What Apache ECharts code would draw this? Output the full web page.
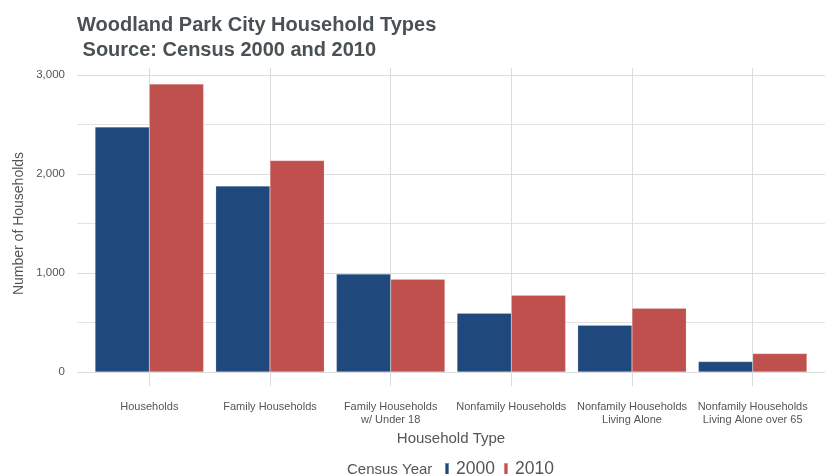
<!DOCTYPE html>
<html>
<head>
<meta charset="utf-8">
<script src="https://cdn.jsdelivr.net/npm/echarts@6/dist/echarts.min.js"></script>
<style>
  html, body { margin: 0; padding: 0; background: #fff; }
  #chart { width: 828px; height: 474px; }
</style>
</head>
<body>
<div id="chart"></div>
<script>
// values
const categories = [
  'Households',
  'Family Households',
  'Family Households\nw/ Under 18',
  'Nonfamily Households',
  'Nonfamily Households\nLiving Alone',
  'Nonfamily Households\nLiving Alone over 65'
]
const households2000 = [2475, 1878, 990, 593, 472, 105]
const households2010 = [2910, 2136, 937, 776, 644, 186]
const yTicks = [0, 1000, 2000, 3000]

const textGrey = '#555555'
const gridGrey = '#dcdcdc'

const chart = echarts.init(document.getElementById('chart'))

chart.setOption({
  animation: false,
  textStyle: { fontFamily: 'Liberation Sans, Arial, sans-serif' },
  title: [{
    text: 'Woodland Park City Household Types\n Source: Census 2000 and 2010',
    left: 72,
    top: 8,
    textStyle: {
      fontSize: 20,
      fontWeight: 'bold',
      color: '#4a5155',
      lineHeight: 25
    }
  }, {
    text: 'Census Year',
    left: 342,
    top: 457,
    textStyle: { fontSize: 15, fontWeight: 'normal', color: textGrey }
  }],
  legend: {
    left: 439,
    top: 455,
    icon: 'rect',
    itemWidth: 4,
    itemHeight: 12,
    itemGap: 8,
    textStyle: { fontSize: 17.5, color: textGrey, padding: [0, 0, 0, 2] },
    data: ['2000', '2010']
  },
  grid: [
    // bars
    { left: 89, right: 15, top: 75, bottom: 102 },
    // vertical grid lines (full panel height)
    { left: 89, right: 15, top: 68, bottom: 88 },
    // horizontal grid lines (full panel width) + y labels
    { left: 77, right: 3, top: 75, bottom: 102 }
  ],
  xAxis: [{
    gridIndex: 0,
    type: 'category',
    data: categories,
    axisLine: { show: false },
    axisTick: { show: false },
    axisLabel: {
      interval: 0,
      margin: 28,
      fontSize: 11,
      lineHeight: 13,
      color: textGrey
    },
    name: 'Household Type',
    nameLocation: 'middle',
    nameGap: 59,
    nameTextStyle: { fontSize: 15, color: textGrey }
  }, {
    gridIndex: 1,
    type: 'category',
    data: categories,
    axisLine: { show: false },
    axisLabel: { show: false },
    axisTick: {
      show: true,
      inside: true,
      interval: 0,
      alignWithLabel: true,
      length: 318,
      lineStyle: { color: gridGrey, width: 1 }
    }
  }, {
    gridIndex: 2,
    type: 'value',
    show: false
  }],
  yAxis: [{
    gridIndex: 0,
    type: 'value',
    min: 0,
    max: 3000,
    interval: 1000,
    axisLine: { show: false },
    axisTick: { show: false },
    axisLabel: { show: false },
    splitLine: { show: false }
  }, {
    gridIndex: 1,
    type: 'value',
    show: false
  }, {
    gridIndex: 2,
    type: 'value',
    min: yTicks[0],
    max: yTicks[yTicks.length - 1],
    interval: 1000,
    axisLine: { show: false },
    axisTick: { show: false },
    axisLabel: {
      margin: 12,
      fontSize: 11.5,
      color: textGrey,
      formatter: v => v.toLocaleString('en-US')
    },
    splitLine: { lineStyle: { color: gridGrey, width: 1.2 } },
    minorTick: { show: false, splitNumber: 2 },
    minorSplitLine: { show: true, lineStyle: { color: '#e3e3e3', width: 1 } },
    name: 'Number of Households',
    nameLocation: 'middle',
    nameGap: 51,
    nameMoveOverlap: false,
    nameTextStyle: { fontSize: 14, color: textGrey }
  }],
  series: [{
    name: '2000',
    type: 'bar',
    xAxisIndex: 0,
    yAxisIndex: 0,
    data: households2000,
    barGap: '0%',
    barCategoryGap: '10%',
    itemStyle: { color: '#1f497d', borderColor: 'rgba(255,255,255,0.35)', borderWidth: 0.5 }
  }, {
    name: '2010',
    type: 'bar',
    xAxisIndex: 0,
    yAxisIndex: 0,
    data: households2010,
    barGap: '0%',
    barCategoryGap: '10%',
    itemStyle: { color: '#c0504d', borderColor: 'rgba(255,255,255,0.35)', borderWidth: 0.5 }
  }]
})
</script>
</body>
</html>
